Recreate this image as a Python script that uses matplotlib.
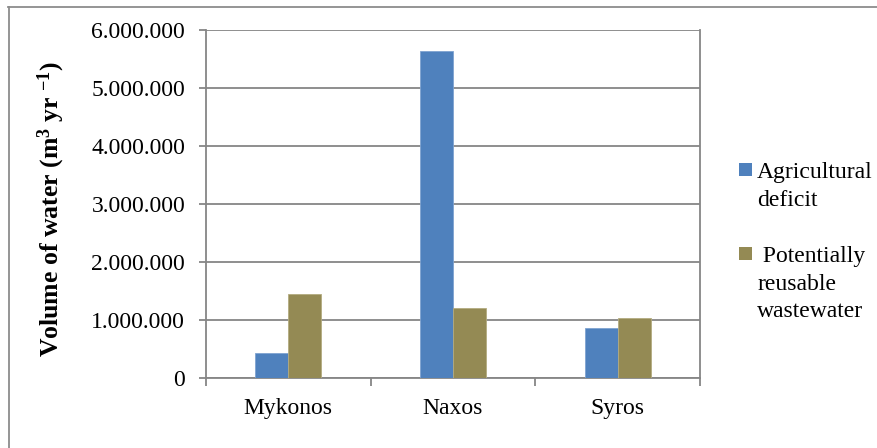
import matplotlib
matplotlib.use("Agg")
import matplotlib.pyplot as plt
from matplotlib.ticker import FuncFormatter, FixedLocator
from matplotlib.patches import Rectangle
from matplotlib.lines import Line2D

SERIF = 'Liberation Serif'
plt.rcParams['font.family'] = 'serif'
plt.rcParams['font.serif'] = [SERIF, 'DejaVu Serif']
plt.rcParams['mathtext.fontset'] = 'custom'
plt.rcParams['mathtext.rm'] = 'Liberation Serif:bold'
plt.rcParams['mathtext.bf'] = 'Liberation Serif:bold'
plt.rcParams['mathtext.it'] = 'Liberation Serif:bold'

categories = ["Mykonos", "Naxos", "Syros"]
agricultural_deficit = [430000, 5640000, 860000]
reusable_wastewater = [1447000, 1206000, 1034000]
series_labels = ["Agricultural\ndeficit", " Potentially\nreusable\nwastewater"]
y_ticks = [0, 1000000, 2000000, 3000000, 4000000, 5000000, 6000000]
ylabel = r"Volume of water (m$^{3}$ yr $^{-1}$)"

blue = "#4F81BD"
olive = "#948A54"
grid_c = "#868686"

W, H = 877, 448
fig = plt.figure(figsize=(W / 100, H / 100), dpi=100)
ax = fig.add_axes([206 / W, 1 - 378.3 / H, 494 / W, 348.3 / H])

x = list(range(len(categories)))
bw = 0.2
ax.bar([i - bw / 2 for i in x], agricultural_deficit, width=bw, color=blue,
       edgecolor="#7fa3d0", linewidth=0.6, zorder=3)
ax.bar([i + bw / 2 for i in x], reusable_wastewater, width=bw, color=olive,
       edgecolor="#b3ab80", linewidth=0.6, zorder=3)

ax.set_xlim(-0.5, len(categories) - 0.5)
ax.set_ylim(0, 6000000)
ax.set_yticks(y_ticks)
ax.yaxis.set_major_formatter(FuncFormatter(lambda v, p: f"{int(v):,}".replace(",", ".")))
ax.yaxis.grid(True, color=grid_c, linewidth=1.3, zorder=0)
ax.set_axisbelow(True)

ax.xaxis.set_major_locator(FixedLocator([i - 0.5 for i in range(len(categories) + 1)]))
ax.xaxis.set_major_formatter(FuncFormatter(lambda v, p: ""))
ax.xaxis.set_minor_locator(FixedLocator(x))
ax.set_xticklabels(categories, minor=True)
ax.tick_params(axis='x', which='major', length=5.5, width=1.3, color=grid_c, direction='out')
ax.tick_params(axis='x', which='minor', length=0, pad=14, labelsize=17)
ax.tick_params(axis='y', which='major', length=5, width=1.3, color=grid_c, direction='out',
               pad=10, labelsize=17)
for lbl in ax.get_xticklabels(minor=True) + ax.get_yticklabels():
    lbl.set_fontfamily(SERIF)

for s in ['left', 'bottom', 'right']:
    ax.spines[s].set_color(grid_c)
    ax.spines[s].set_linewidth(1.3)
ax.spines['top'].set_visible(False)

fig.text(51 / W, 1 - 209 / H, ylabel, rotation=90, ha='center', va='center',
         fontsize=18.5, fontweight='bold', family=SERIF)

# legend (manual)
legend_colors = [blue, olive]
marker_tops = [163, 247]
for col, top, lab in zip(legend_colors, marker_tops, series_labels):
    fig.patches.append(Rectangle((739 / W, 1 - (top + 13) / H), 13 / W, 13 / H,
                                 transform=fig.transFigure, facecolor=col,
                                 edgecolor='none'))
    for k, line in enumerate(lab.split("\n")):
        base = top + 15 + k * 27.5
        fig.text(757 / W, 1 - base / H, line, ha='left', va='baseline', fontsize=17,
                 family=SERIF)

# outer border (top and left visible)
fig.add_artist(Line2D([8 / W, 1.0], [1 - 7.5 / H, 1 - 7.5 / H], transform=fig.transFigure,
                      color="#8c8c8c", linewidth=1.3))
fig.add_artist(Line2D([8.5 / W, 8.5 / W], [0, 1 - 7 / H], transform=fig.transFigure,
                      color="#8c8c8c", linewidth=1.3))

fig.savefig("out.png", dpi=100)
